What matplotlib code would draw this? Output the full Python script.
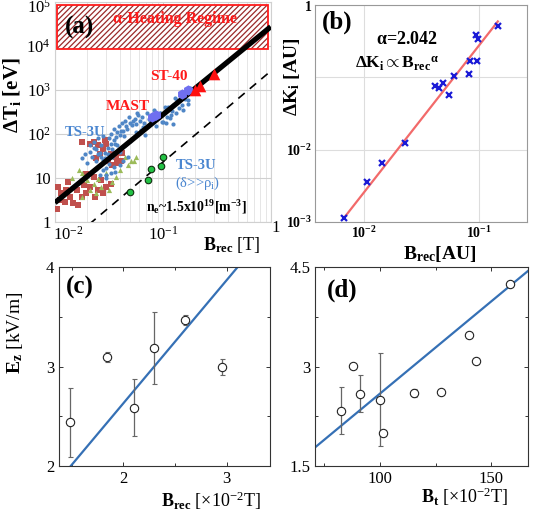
"""Four-panel reconnection heating figure, redrawn with matplotlib."""
import matplotlib

matplotlib.use("Agg")
import matplotlib.pyplot as plt  # noqa: E402
import matplotlib.patches as mpatches  # noqa: E402
import matplotlib.transforms as mtrans  # noqa: E402
from matplotlib.ticker import FixedLocator, FixedFormatter, NullLocator, NullFormatter  # noqa: E402
import numpy as np  # noqa: E402

plt.rcParams["font.family"] = ["Liberation Serif", "DejaVu Serif"]
plt.rcParams["mathtext.fontset"] = "custom"
plt.rcParams["mathtext.rm"] = "Liberation Serif"
plt.rcParams["mathtext.it"] = "Liberation Serif:italic"
plt.rcParams["mathtext.bf"] = "Liberation Serif:bold"
plt.rcParams["hatch.linewidth"] = 0.9

# ---- (a) ΔTi vs Brec ----
sq_x = [0.0104, 0.0107, 0.0115, 0.0125, 0.0128, 0.0138, 0.0148, 0.0159, 0.0177, 0.0185,
        0.0196, 0.021, 0.0234, 0.025, 0.027, 0.028, 0.030, 0.033, 0.0228, 0.0196,
        0.0177, 0.021, 0.0228, 0.025, 0.026, 0.028, 0.029, 0.030, 0.031, 0.033,
        0.034, 0.037, 0.038, 0.041, 0.042, 0.024, 0.0112, 0.0132, 0.0165]
sq_y = [2.0, 6.3, 4.5, 2.8, 5.3, 3.8, 2.65, 5.3, 3.8, 7.0,
        4.5, 6.3, 3.8, 5.3, 8.8, 4.5, 6.3, 7.4, 10.5, 12.5,
        67, 60, 67, 55, 36, 46, 75, 60, 24, 36,
        20, 30, 22, 25, 38, 28, 3.2, 8.0, 2.4]
tri_x = [0.0167, 0.0179, 0.020, 0.0228, 0.025, 0.027, 0.030, 0.032, 0.037, 0.040,
         0.048, 0.051, 0.057, 0.045, 0.054, 0.034, 0.021, 0.024, 0.018, 0.0145]
tri_y = [15, 12.8, 9.0, 7.5, 9.5, 6.3, 12.8, 5.3, 10.5, 15,
         20, 25, 30, 30, 24, 8.0, 5.3, 4.5, 3.8, 10]
ts_x = [0.021, 0.023, 0.024, 0.026, 0.028, 0.030, 0.032, 0.034, 0.027, 0.029,
        0.031, 0.033, 0.035, 0.040, 0.043, 0.046, 0.050, 0.055, 0.059, 0.063,
        0.067, 0.069, 0.074, 0.080, 0.086, 0.095, 0.098, 0.112, 0.118, 0.135,
        0.142, 0.043, 0.048, 0.040, 0.057, 0.066, 0.076, 0.094, 0.108, 0.125,
        0.144, 0.166, 0.178, 0.100, 0.116, 0.133, 0.153, 0.170, 0.088, 0.108,
        0.125, 0.022, 0.025, 0.028, 0.036, 0.020, 0.018, 0.030, 0.038, 0.160,
        0.019, 0.021, 0.023, 0.024, 0.025, 0.026, 0.027, 0.028, 0.029, 0.031,
        0.032, 0.033, 0.034, 0.035, 0.036, 0.037, 0.038, 0.039, 0.041, 0.042,
        0.044, 0.045, 0.047, 0.049, 0.052, 0.053, 0.056, 0.058, 0.061, 0.064,
        0.071, 0.078, 0.083, 0.090, 0.105, 0.110, 0.122, 0.130, 0.150, 0.158,
        0.172, 0.185, 0.030, 0.033, 0.026, 0.024, 0.035, 0.040, 0.045, 0.050]
ts_y = [40, 48, 25, 20, 15, 17, 21, 30, 30, 38,
        48, 60, 72, 95, 115, 150, 180, 225, 270, 125,
        180, 95, 225, 270, 150, 295, 190, 415, 270, 590,
        390, 24, 30, 20, 113, 147, 210, 295, 350, 455,
        590, 830, 1100, 190, 230, 295, 350, 480, 230, 175,
        165, 30, 35, 26, 14, 22, 28, 12, 55, 620,
        35, 55, 65, 45, 80, 38, 55, 90, 28, 35,
        80, 100, 45, 130, 60, 85, 110, 150, 120, 180,
        90, 200, 130, 240, 160, 200, 170, 300, 200, 250,
        300, 180, 360, 250, 420, 250, 330, 650, 450, 700,
        600, 950, 10, 13, 12, 16, 18, 40, 55, 70]
mast_x = [0.079, 0.086, 0.152, 0.170]
mast_y = [245, 275, 820, 980]
st40_x = [0.200, 0.220, 0.300]
st40_y = [1000, 1250, 2300]
wide_x = [0.0495, 0.073, 0.0785, 0.097, 0.100]
wide_y = [4.8, 8.9, 16.3, 18.7, 30]
fit_coef, fit_pow = 2.75e4, 2.0
dash_coef, dash_pow = 2700, 2.07
regime_x = (0.0104, 0.95)
regime_y = (8.5e3, 8.5e4)

# ---- (b) ΔKi vs Brec ----
kb_x = [0.0068, 0.0107, 0.0144, 0.023, 0.0414, 0.045, 0.0486, 0.055, 0.060, 0.081,
        0.0835, 0.095, 0.0935, 0.097, 0.145]
kb_y = [0.00115, 0.0036, 0.0065, 0.0123, 0.0766, 0.071, 0.083, 0.0575, 0.105, 0.111,
        0.167, 0.167, 0.39, 0.344, 0.52]
alpha = 2.042
k_coef = 30.7

# ---- (c) Ez vs Brec ----
ez_x = [1.48, 1.84, 2.10, 2.30, 2.60, 2.95]
ez_y = [2.44, 3.10, 2.59, 3.19, 3.47, 3.00]
ez_err = [0.35, 0.05, 0.29, 0.36, 0.05, 0.08]
ez_slope, ez_icpt = 1.24, 0.152

# ---- (d) vs Bt ----
bt_x = [82.5, 88.1, 91.0, 100.0, 101.6, 115.2, 127.6, 139.9, 143.3, 158.5]
bt_y = [2.34, 3.015, 2.59, 2.505, 2.0, 2.6, 2.625, 3.48, 3.09, 4.25]
bt_err = [0.35, 0.0, 0.28, 0.70, 0.0, 0.06, 0.0, 0.0, 0.0, 0.0]
bt_slope, bt_icpt = 0.0279, -0.198

fig = plt.figure(figsize=(5.33, 5.14), dpi=100)
ax_a = fig.add_axes([0.103, 0.568, 0.405, 0.428])
ax_b = fig.add_axes([0.591, 0.568, 0.398, 0.422])
ax_c = fig.add_axes([0.111, 0.093, 0.396, 0.387])
ax_d = fig.add_axes([0.591, 0.093, 0.400, 0.387])

# panel (a)
ax = ax_a
ax.set_xscale("log")
ax.set_yscale("log")
ax.set_xlim(0.01, 1)
ax.set_ylim(1, 1e5)
ax.grid(True, which="major", color="#d0d0d0", lw=0.8)
ax.grid(True, which="minor", axis="x", color="#e2e2e2", lw=0.6)
for s in ax.spines.values():
    s.set_color("#d0d0d0")
ax.tick_params(which="both", length=0, labelsize=12, pad=3)
ax.xaxis.set_major_locator(FixedLocator([0.01, 0.1, 1]))
ax.xaxis.set_major_formatter(FixedFormatter([r"$\mathrm{10^{-2}}$", r"$\mathrm{10^{-1}}$", "1"]))
ax.yaxis.set_major_locator(FixedLocator([1, 10, 100, 1e3, 1e4, 1e5]))
ax.yaxis.set_major_formatter(FixedFormatter(["1", "10", r"$\mathrm{10^{2}}$", r"$\mathrm{10^{3}}$",
                                             r"$\mathrm{10^{4}}$", r"$\mathrm{10^{5}}$"]))
ax.yaxis.set_minor_locator(NullLocator())
ax.xaxis.set_minor_formatter(NullFormatter())
lbls = ax.get_xticklabels()
lbls[0].set_transform(lbls[0].get_transform() + mtrans.ScaledTranslation(0.13, 0, fig.dpi_scale_trans))
lbls[2].set_transform(lbls[2].get_transform() + mtrans.ScaledTranslation(0.05, 0.06, fig.dpi_scale_trans))
ylbls = ax.get_yticklabels()
ylbls[-1].set_transform(ylbls[-1].get_transform() + mtrans.ScaledTranslation(0, -0.04, fig.dpi_scale_trans))

ax.add_patch(mpatches.Rectangle((regime_x[0], regime_y[0]), regime_x[1] - regime_x[0],
                                regime_y[1] - regime_y[0], facecolor="white",
                                edgecolor="#9a2a2a", hatch="//////", lw=0, zorder=2))
ax.add_patch(mpatches.Rectangle((regime_x[0], regime_y[0]), regime_x[1] - regime_x[0],
                                regime_y[1] - regime_y[0], facecolor="none",
                                edgecolor="#ff1a1a", lw=1.3, zorder=3))
ax.scatter(sq_x, sq_y, marker="s", s=14, color="#c0504d", lw=0, zorder=3)
ax.scatter(tri_x, tri_y, marker="^", s=14, color="#9bbb59", lw=0, zorder=3)
ax.scatter(ts_x, ts_y, marker="o", s=9, color="#4f86c6", lw=0, zorder=3)
xx = np.logspace(-2, 0, 60)
ax.plot(xx, fit_coef * xx ** fit_pow, color="black", lw=3.8, zorder=4, solid_capstyle="butt")
ax.plot(xx, dash_coef * xx ** dash_pow, color="black", lw=1.2, ls=(0, (5, 4)), zorder=4)
ax.scatter(mast_x, mast_y, marker="h", s=55, color="#6f6ff0", lw=0, zorder=5)
ax.scatter(st40_x, st40_y, marker="^", s=70, color="#ff1010", lw=0, zorder=5)
ax.scatter(wide_x, wide_y, marker="o", s=22, facecolor="#22c244", edgecolor="#103010",
           lw=0.8, zorder=5)

ax.text(0.116, 0.886, "(a)", transform=ax.transAxes, fontsize=18, fontweight="bold",
        ha="center", va="center", zorder=6)
ax.text(0.556, 0.923, "α-Heating Regime", transform=ax.transAxes, fontsize=11.5,
        fontweight="bold", color="#ff1a1a", ha="center", va="center", zorder=6)
ax.text(0.528, 0.66, "ST-40", transform=ax.transAxes, fontsize=11, fontweight="bold",
        color="#ff1a1a", ha="center", va="center")
ax.text(0.338, 0.527, "MAST", transform=ax.transAxes, fontsize=11, fontweight="bold",
        color="#ff1a1a", ha="center", va="center")
ax.text(0.139, 0.405, "TS-3U", transform=ax.transAxes, fontsize=10.5, fontweight="bold",
        color="#4a86d0", ha="center", va="center")
ax.text(0.656, 0.259, "TS-3U", transform=ax.transAxes, fontsize=10.5, fontweight="bold",
        color="#4a86d0", ha="center", va="center")
ax.text(0.662, 0.177, r"(δ>>ρ$_\mathrm{i}$)", transform=ax.transAxes, fontsize=10.5,
        color="#4a86d0", ha="center", va="center")
ax.text(0.656, 0.068, r"$\mathbf{n_e}$~1.5x10$^{\mathbf{19}}$[m$^{\mathbf{-3}}$]",
        transform=ax.transAxes, fontsize=10, fontweight="bold", ha="center", va="center")
ax.set_ylabel(r"$\mathbf{\Delta T_i}$ [eV]", fontsize=15, fontweight="bold")
ax.yaxis.set_label_coords(-0.15, 0.577)
ax.set_xlabel(r"$\mathbf{B_{rec}}$ [T]", fontsize=13)
ax.xaxis.set_label_coords(0.82, -0.06)

# panel (b)
ax = ax_b
ax.set_xscale("log")
ax.set_yscale("log")
ax.set_xlim(0.0038, 0.26)
ax.set_ylim(1e-3, 1)
ax.xaxis.set_major_locator(FixedLocator([0.01, 0.1]))
ax.yaxis.set_major_locator(FixedLocator([1e-3, 1e-2, 1e-1, 1]))
ax.xaxis.set_minor_locator(NullLocator())
ax.yaxis.set_minor_locator(NullLocator())
ax.xaxis.set_major_formatter(FixedFormatter([r"$\mathbf{10^{-2}}$", r"$\mathbf{10^{-1}}$"]))
ax.yaxis.set_major_formatter(FixedFormatter([r"$\mathbf{10^{-3}}$", r"$\mathbf{10^{-2}}$", "", r"$\mathbf{1}$"]))
ax.grid(True, color="#dddddd", lw=0.8)
for s in ax.spines.values():
    s.set_color("#999999")
ax.tick_params(length=0, labelsize=10, pad=2)
xb = np.logspace(np.log10(min(kb_x)), np.log10(max(kb_x)), 40)
ax.plot(xb, k_coef * xb ** alpha, color="#f26a6a", lw=1.6, zorder=2)
ax.plot(kb_x, kb_y, ls="none", marker="x", ms=5, mew=1.6, color="#1a1ad6", zorder=3)
ax.text(0.104, 0.92, "(b)", transform=ax.transAxes, fontsize=18, fontweight="bold",
        ha="center", va="center")
ax.text(0.434, 0.84, r"$\mathbf{\alpha}$=2.042", transform=ax.transAxes, fontsize=13,
        fontweight="bold", ha="center", va="center")
ax.text(0.387, 0.73, r"$\mathbf{\Delta K_i \propto B_{rec}{}^{\alpha}}$", transform=ax.transAxes,
        fontsize=12.5, ha="center", va="center")
ax.set_ylabel(r"$\mathbf{\Delta K_i}$ [AU]", fontsize=14, fontweight="bold")
ax.yaxis.set_label_coords(-0.06, 0.668)
ax.set_xlabel(r"$\mathbf{B_{rec}}$[AU]", fontsize=14, fontweight="bold")
ax.xaxis.set_label_coords(0.59, -0.1)

# panels (c), (d)
for ax in (ax_c, ax_d):
    for s in ax.spines.values():
        s.set_color("#333333")
        s.set_linewidth(0.8)
    ax.tick_params(which="both", direction="in", top=True, right=True, labelsize=12,
                   length=3, width=0.7, color="#333333")
    ax.tick_params(which="minor", length=2.5)

ax = ax_c
ax.set_xlim(1.38, 3.42)
ax.set_ylim(2, 4)
ax.xaxis.set_major_locator(FixedLocator([2, 3]))
ax.xaxis.set_minor_locator(FixedLocator([1.5, 2.5]))
ax.yaxis.set_major_locator(FixedLocator([2, 3, 4]))
ax.yaxis.set_minor_locator(FixedLocator([2.5, 3.5]))
xc = np.array(ax.get_xlim())
ax.plot(xc, ez_slope * xc + ez_icpt, color="#3570b5", lw=1.6, zorder=2)
ax.errorbar(ez_x, ez_y, yerr=ez_err, fmt="o", ms=6, mfc="white", mec="#222222", mew=0.8,
            ecolor="#666666", elinewidth=0.9, capsize=1.8, zorder=3)
ax.text(0.1, 0.9, "(c)", transform=ax.transAxes, fontsize=18, fontweight="bold",
        ha="center", va="center")
ax.set_ylabel(r"$\mathbf{E_z}$ [kV/m]", fontsize=14)
ax.yaxis.set_label_coords(-0.16, 0.673)
ax.set_xlabel(r"$\mathbf{B_{rec}}$ [$\times$10$^{-2}$T]", fontsize=13)
ax.xaxis.set_label_coords(0.72, -0.12)

ax = ax_d
ax.set_xlim(71, 166.5)
ax.set_ylim(1.5, 4.5)
ax.xaxis.set_major_locator(FixedLocator([100, 150]))
ax.xaxis.set_minor_locator(FixedLocator([75, 125]))
ax.yaxis.set_major_locator(FixedLocator([1.5, 3, 4.5]))
ax.yaxis.set_minor_locator(FixedLocator([2.25, 3.75]))
ax.yaxis.set_major_formatter(FixedFormatter(["1.5", "3", "4.5"]))
xd = np.array(ax.get_xlim())
ax.plot(xd, bt_slope * xd + bt_icpt, color="#3570b5", lw=1.6, zorder=2)
ax.errorbar(bt_x, bt_y, yerr=bt_err, fmt="o", ms=6, mfc="white", mec="#222222", mew=0.8,
            ecolor="#666666", elinewidth=0.9, capsize=1.8, zorder=3)
ax.text(0.127, 0.884, "(d)", transform=ax.transAxes, fontsize=18, fontweight="bold",
        ha="center", va="center")
ax.set_xlabel(r"$\mathbf{B_t}$ [$\times$10$^{-2}$T]", fontsize=13)
ax.xaxis.set_label_coords(0.70, -0.1)

fig.savefig("out.png", dpi=100)
plt.close(fig)
